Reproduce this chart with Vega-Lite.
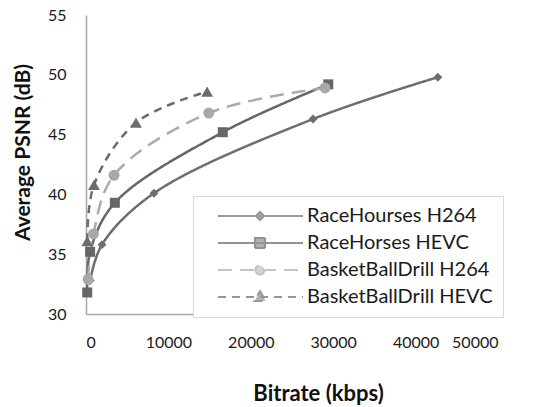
{
  "$schema": "https://vega.github.io/schema/vega-lite/v6.json",
  "width": 412,
  "height": 299,
  "autosize": "none",
  "padding": {"left": 86, "top": 15, "right": 55, "bottom": 93},
  "background": "white",
  "config": {"view": {"stroke": null}, "font": "Lato"},
  "data": {"values": [
    {"series": "RaceHourses H264", "bitrate": 500, "psnr": 32.8},
    {"series": "RaceHourses H264", "bitrate": 1940, "psnr": 35.8},
    {"series": "RaceHourses H264", "bitrate": 8250, "psnr": 40.1},
    {"series": "RaceHourses H264", "bitrate": 27550, "psnr": 46.3},
    {"series": "RaceHourses H264", "bitrate": 42700, "psnr": 49.8},
    {"series": "RaceHorses HEVC", "bitrate": 150, "psnr": 31.8},
    {"series": "RaceHorses HEVC", "bitrate": 500, "psnr": 35.2},
    {"series": "RaceHorses HEVC", "bitrate": 3500, "psnr": 39.3},
    {"series": "RaceHorses HEVC", "bitrate": 16600, "psnr": 45.2},
    {"series": "RaceHorses HEVC", "bitrate": 29400, "psnr": 49.2},
    {"series": "BasketBallDrill H264", "bitrate": 250, "psnr": 32.9},
    {"series": "BasketBallDrill H264", "bitrate": 900, "psnr": 36.7},
    {"series": "BasketBallDrill H264", "bitrate": 3400, "psnr": 41.6},
    {"series": "BasketBallDrill H264", "bitrate": 14900, "psnr": 46.8},
    {"series": "BasketBallDrill H264", "bitrate": 29000, "psnr": 48.9},
    {"series": "BasketBallDrill HEVC", "bitrate": 150, "psnr": 36.1},
    {"series": "BasketBallDrill HEVC", "bitrate": 970, "psnr": 40.8},
    {"series": "BasketBallDrill HEVC", "bitrate": 6070, "psnr": 46.0},
    {"series": "BasketBallDrill HEVC", "bitrate": 14700, "psnr": 48.6}
  ]},
  "layer": [
    {
      "mark": {"type": "line", "interpolate": "catmull-rom", "strokeWidth": 2.5},
      "encoding": {
        "x": {"field": "bitrate", "type": "quantitative",
          "scale": {"domain": [0, 50000], "nice": false},
          "axis": {"title": "Bitrate (kbps)", "values": [0, 10000, 20000, 30000, 40000, 50000], "format": "d",
            "grid": false, "ticks": false, "domainColor": "#a6a6a6", "domainWidth": 1.5,
            "labelFontSize": 16, "labelColor": "#1a1a1a", "labelPadding": 20,
            "titleFontSize": 22, "titleFontWeight": "bold", "titleColor": "#111111",
            "titleX": 232, "titleY": 79, "titleBaseline": "middle"}},
        "y": {"field": "psnr", "type": "quantitative",
          "scale": {"domain": [30, 55], "nice": false, "zero": false},
          "axis": {"title": "Average PSNR (dB)", "values": [30, 35, 40, 45, 50, 55],
            "grid": false, "ticks": false, "domainColor": "#a6a6a6", "domainWidth": 1.5,
            "labelFontSize": 16, "labelColor": "#1a1a1a", "labelPadding": 20,
            "titleFontSize": 21, "titleFontWeight": "bold", "titleColor": "#111111",
            "titleX": -63, "titleY": 137, "titleBaseline": "middle"}},
        "color": {"field": "series", "type": "nominal", "legend": null,
          "scale": {"domain": ["RaceHourses H264", "RaceHorses HEVC", "BasketBallDrill H264", "BasketBallDrill HEVC"],
            "range": ["#6e6e6e", "#666666", "#ababab", "#6c6c6c"]}},
        "strokeDash": {"field": "series", "type": "nominal", "legend": null,
          "scale": {"domain": ["RaceHourses H264", "RaceHorses HEVC", "BasketBallDrill H264", "BasketBallDrill HEVC"],
            "range": [[1, 0], [1, 0], [14, 8], [8, 6]]}}
      }
    },
    {
      "mark": {"type": "point", "filled": true, "opacity": 1},
      "encoding": {
        "x": {"field": "bitrate", "type": "quantitative"},
        "y": {"field": "psnr", "type": "quantitative"},
        "color": {"field": "series", "type": "nominal", "legend": null,
          "scale": {"domain": ["RaceHourses H264", "RaceHorses HEVC", "BasketBallDrill H264", "BasketBallDrill HEVC"],
            "range": ["#6e6e6e", "#666666", "#a8a8a8", "#6c6c6c"]}},
        "shape": {"field": "series", "type": "nominal", "legend": null,
          "scale": {"domain": ["RaceHourses H264", "RaceHorses HEVC", "BasketBallDrill H264", "BasketBallDrill HEVC"],
            "range": ["diamond", "square", "circle", "triangle-up"]}},
        "size": {"field": "series", "type": "nominal", "legend": null,
          "scale": {"domain": ["RaceHourses H264", "RaceHorses HEVC", "BasketBallDrill H264", "BasketBallDrill HEVC"],
            "range": [80, 140, 120, 130]}}
      }
    },
    {
      "transform": [{"filter": "datum.psnr < 0"}],
      "mark": {"type": "point", "filled": true},
      "encoding": {
        "x": {"field": "bitrate", "type": "quantitative"},
        "y": {"field": "psnr", "type": "quantitative"},
        "fill": {"field": "series", "type": "nominal", "title": null,
          "scale": {"domain": ["RaceHourses H264", "RaceHorses HEVC", "BasketBallDrill H264", "BasketBallDrill HEVC"],
            "range": ["#6e6e6e", "#666666", "#a8a8a8", "#6c6c6c"]},
          "legend": {"orient": "none", "legendX": 107, "legendY": 181, "padding": 10,
            "fillColor": "white", "strokeColor": "#d9d9d9",
            "symbolSize": 100, "symbolStrokeWidth": 2.2, "labelOffset": 84,
            "labelFontSize": 20, "labelColor": "#1a1a1a", "rowPadding": 7, "labelLimit": 400}},
        "stroke": {"field": "series", "type": "nominal", "title": null,
          "scale": {"domain": ["RaceHourses H264", "RaceHorses HEVC", "BasketBallDrill H264", "BasketBallDrill HEVC"],
            "range": ["#6e6e6e", "#666666", "#ababab", "#6c6c6c"]}},
        "shape": {"field": "series", "type": "nominal", "title": null,
          "scale": {"domain": ["RaceHourses H264", "RaceHorses HEVC", "BasketBallDrill H264", "BasketBallDrill HEVC"],
            "range": [
              "M1,0L18,0M9.4,-0.8L10.2,0L9.4,0.8L8.6,0Z",
              "M1,0L18,0M8.4,-1L10.4,-1L10.4,1L8.4,1Z",
              "M1,0L18,0M8.5,0A0.9,0.9,0,1,0,10.3,0A0.9,0.9,0,1,0,8.5,0Z",
              "M1,0L18,0M9.4,-1.1L10.5,0.8L8.3,0.8Z"]}},
        "strokeDash": {"field": "series", "type": "nominal", "title": null,
          "scale": {"domain": ["RaceHourses H264", "RaceHorses HEVC", "BasketBallDrill H264", "BasketBallDrill HEVC"],
            "range": [[1, 0], [1, 0], [14, 8], [8, 6]]}}
      }
    }
  ],
  "resolve": {"scale": {"color": "independent", "shape": "independent", "strokeDash": "independent", "fill": "independent", "stroke": "independent", "size": "independent"}}
}
